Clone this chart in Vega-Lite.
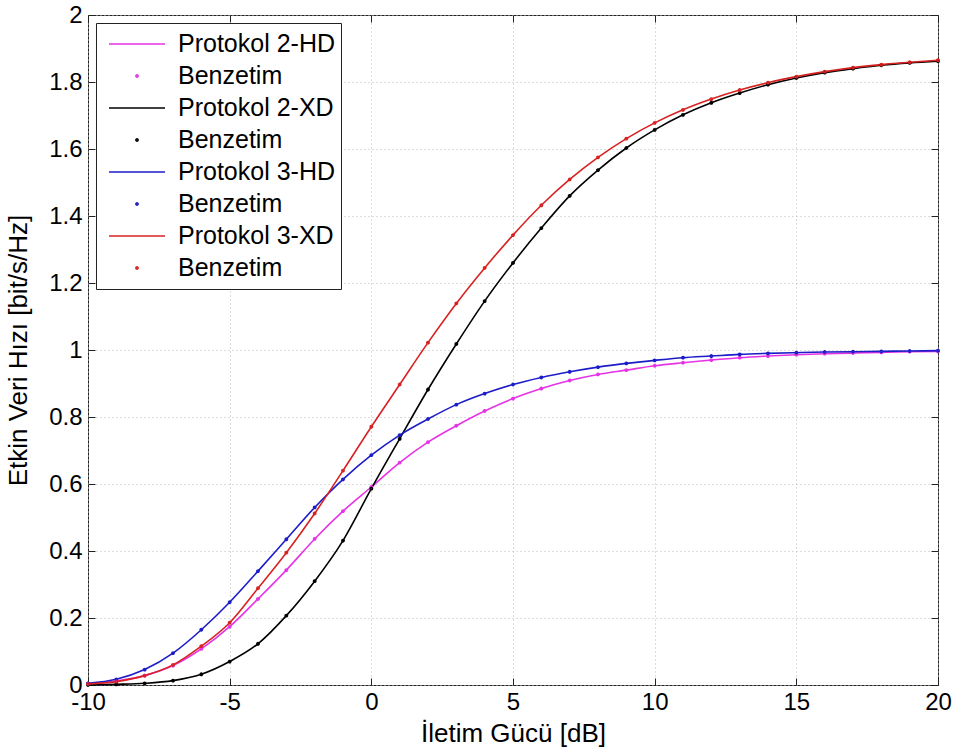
{
  "$schema": "https://vega.github.io/schema/vega-lite/v6.json",
  "autosize": {"type": "none"},
  "padding": {"left": 88, "top": 15, "right": 19, "bottom": 68},
  "width": 850,
  "height": 670,
  "background": "white",
  "config": {
    "view": {"stroke": "#222222", "strokeWidth": 1},
    "font": "Liberation Sans",
    "axis": {
      "labelFont": "Liberation Sans",
      "titleFont": "Liberation Sans",
      "labelColor": "black",
      "titleColor": "black",
      "titleFontWeight": "normal",
      "labelFontSize": 24,
      "titleFontSize": 26,
      "domain": false,
      "tickColor": "#222222",
      "gridColor": "#b8b8b8",
      "gridDash": [1, 3],
      "gridWidth": 1
    },
    "legend": {
      "title": null, "orient": "top-left", "offset": 8,
      "labelFont": "Liberation Sans", "labelFontSize": 25, "labelColor": "black",
      "strokeColor": "#222222", "fillColor": "white", "padding": 6,
      "symbolSize": 3136, "symbolStrokeWidth": 1.6, "clipHeight": 30, "rowPadding": 2,
      "symbolOffset": 6, "labelOffset": 12, "labelLimit": 400
    }
  },
  "data": {
    "values": [
      {"x": -10, "y": 0.004, "l": "a", "s": "b"},
      {"x": -9, "y": 0.012, "l": "a", "s": "b"},
      {"x": -8, "y": 0.028, "l": "a", "s": "b"},
      {"x": -7, "y": 0.058, "l": "a", "s": "b"},
      {"x": -6, "y": 0.108, "l": "a", "s": "b"},
      {"x": -5, "y": 0.174, "l": "a", "s": "b"},
      {"x": -4, "y": 0.257, "l": "a", "s": "b"},
      {"x": -3, "y": 0.343, "l": "a", "s": "b"},
      {"x": -2, "y": 0.436, "l": "a", "s": "b"},
      {"x": -1, "y": 0.519, "l": "a", "s": "b"},
      {"x": 0, "y": 0.591, "l": "a", "s": "b"},
      {"x": 1, "y": 0.664, "l": "a", "s": "b"},
      {"x": 2, "y": 0.725, "l": "a", "s": "b"},
      {"x": 3, "y": 0.774, "l": "a", "s": "b"},
      {"x": 4, "y": 0.818, "l": "a", "s": "b"},
      {"x": 5, "y": 0.855, "l": "a", "s": "b"},
      {"x": 6, "y": 0.885, "l": "a", "s": "b"},
      {"x": 7, "y": 0.909, "l": "a", "s": "b"},
      {"x": 8, "y": 0.927, "l": "a", "s": "b"},
      {"x": 9, "y": 0.940, "l": "a", "s": "b"},
      {"x": 10, "y": 0.953, "l": "a", "s": "b"},
      {"x": 11, "y": 0.962, "l": "a", "s": "b"},
      {"x": 12, "y": 0.970, "l": "a", "s": "b"},
      {"x": 13, "y": 0.977, "l": "a", "s": "b"},
      {"x": 14, "y": 0.982, "l": "a", "s": "b"},
      {"x": 15, "y": 0.986, "l": "a", "s": "b"},
      {"x": 16, "y": 0.989, "l": "a", "s": "b"},
      {"x": 17, "y": 0.991, "l": "a", "s": "b"},
      {"x": 18, "y": 0.993, "l": "a", "s": "b"},
      {"x": 19, "y": 0.995, "l": "a", "s": "b"},
      {"x": 20, "y": 0.996, "l": "a", "s": "b"},
      {"x": -10, "y": 0.000, "l": "c", "s": "d"},
      {"x": -9, "y": 0.002, "l": "c", "s": "d"},
      {"x": -8, "y": 0.005, "l": "c", "s": "d"},
      {"x": -7, "y": 0.013, "l": "c", "s": "d"},
      {"x": -6, "y": 0.032, "l": "c", "s": "d"},
      {"x": -5, "y": 0.070, "l": "c", "s": "d"},
      {"x": -4, "y": 0.123, "l": "c", "s": "d"},
      {"x": -3, "y": 0.207, "l": "c", "s": "d"},
      {"x": -2, "y": 0.310, "l": "c", "s": "d"},
      {"x": -1, "y": 0.431, "l": "c", "s": "d"},
      {"x": 0, "y": 0.586, "l": "c", "s": "d"},
      {"x": 1, "y": 0.735, "l": "c", "s": "d"},
      {"x": 2, "y": 0.882, "l": "c", "s": "d"},
      {"x": 3, "y": 1.018, "l": "c", "s": "d"},
      {"x": 4, "y": 1.146, "l": "c", "s": "d"},
      {"x": 5, "y": 1.260, "l": "c", "s": "d"},
      {"x": 6, "y": 1.364, "l": "c", "s": "d"},
      {"x": 7, "y": 1.460, "l": "c", "s": "d"},
      {"x": 8, "y": 1.537, "l": "c", "s": "d"},
      {"x": 9, "y": 1.603, "l": "c", "s": "d"},
      {"x": 10, "y": 1.657, "l": "c", "s": "d"},
      {"x": 11, "y": 1.702, "l": "c", "s": "d"},
      {"x": 12, "y": 1.738, "l": "c", "s": "d"},
      {"x": 13, "y": 1.767, "l": "c", "s": "d"},
      {"x": 14, "y": 1.792, "l": "c", "s": "d"},
      {"x": 15, "y": 1.812, "l": "c", "s": "d"},
      {"x": 16, "y": 1.828, "l": "c", "s": "d"},
      {"x": 17, "y": 1.840, "l": "c", "s": "d"},
      {"x": 18, "y": 1.850, "l": "c", "s": "d"},
      {"x": 19, "y": 1.857, "l": "c", "s": "d"},
      {"x": 20, "y": 1.862, "l": "c", "s": "d"},
      {"x": -10, "y": 0.005, "l": "e", "s": "f"},
      {"x": -9, "y": 0.017, "l": "e", "s": "f"},
      {"x": -8, "y": 0.046, "l": "e", "s": "f"},
      {"x": -7, "y": 0.095, "l": "e", "s": "f"},
      {"x": -6, "y": 0.165, "l": "e", "s": "f"},
      {"x": -5, "y": 0.247, "l": "e", "s": "f"},
      {"x": -4, "y": 0.340, "l": "e", "s": "f"},
      {"x": -3, "y": 0.435, "l": "e", "s": "f"},
      {"x": -2, "y": 0.530, "l": "e", "s": "f"},
      {"x": -1, "y": 0.614, "l": "e", "s": "f"},
      {"x": 0, "y": 0.686, "l": "e", "s": "f"},
      {"x": 1, "y": 0.746, "l": "e", "s": "f"},
      {"x": 2, "y": 0.794, "l": "e", "s": "f"},
      {"x": 3, "y": 0.837, "l": "e", "s": "f"},
      {"x": 4, "y": 0.870, "l": "e", "s": "f"},
      {"x": 5, "y": 0.897, "l": "e", "s": "f"},
      {"x": 6, "y": 0.918, "l": "e", "s": "f"},
      {"x": 7, "y": 0.935, "l": "e", "s": "f"},
      {"x": 8, "y": 0.949, "l": "e", "s": "f"},
      {"x": 9, "y": 0.960, "l": "e", "s": "f"},
      {"x": 10, "y": 0.969, "l": "e", "s": "f"},
      {"x": 11, "y": 0.977, "l": "e", "s": "f"},
      {"x": 12, "y": 0.982, "l": "e", "s": "f"},
      {"x": 13, "y": 0.987, "l": "e", "s": "f"},
      {"x": 14, "y": 0.990, "l": "e", "s": "f"},
      {"x": 15, "y": 0.992, "l": "e", "s": "f"},
      {"x": 16, "y": 0.994, "l": "e", "s": "f"},
      {"x": 17, "y": 0.995, "l": "e", "s": "f"},
      {"x": 18, "y": 0.996, "l": "e", "s": "f"},
      {"x": 19, "y": 0.997, "l": "e", "s": "f"},
      {"x": 20, "y": 0.998, "l": "e", "s": "f"},
      {"x": -10, "y": 0.003, "l": "g", "s": "h"},
      {"x": -9, "y": 0.010, "l": "g", "s": "h"},
      {"x": -8, "y": 0.028, "l": "g", "s": "h"},
      {"x": -7, "y": 0.060, "l": "g", "s": "h"},
      {"x": -6, "y": 0.116, "l": "g", "s": "h"},
      {"x": -5, "y": 0.186, "l": "g", "s": "h"},
      {"x": -4, "y": 0.289, "l": "g", "s": "h"},
      {"x": -3, "y": 0.395, "l": "g", "s": "h"},
      {"x": -2, "y": 0.512, "l": "g", "s": "h"},
      {"x": -1, "y": 0.640, "l": "g", "s": "h"},
      {"x": 0, "y": 0.771, "l": "g", "s": "h"},
      {"x": 1, "y": 0.897, "l": "g", "s": "h"},
      {"x": 2, "y": 1.022, "l": "g", "s": "h"},
      {"x": 3, "y": 1.139, "l": "g", "s": "h"},
      {"x": 4, "y": 1.245, "l": "g", "s": "h"},
      {"x": 5, "y": 1.343, "l": "g", "s": "h"},
      {"x": 6, "y": 1.432, "l": "g", "s": "h"},
      {"x": 7, "y": 1.509, "l": "g", "s": "h"},
      {"x": 8, "y": 1.575, "l": "g", "s": "h"},
      {"x": 9, "y": 1.631, "l": "g", "s": "h"},
      {"x": 10, "y": 1.678, "l": "g", "s": "h"},
      {"x": 11, "y": 1.717, "l": "g", "s": "h"},
      {"x": 12, "y": 1.749, "l": "g", "s": "h"},
      {"x": 13, "y": 1.776, "l": "g", "s": "h"},
      {"x": 14, "y": 1.798, "l": "g", "s": "h"},
      {"x": 15, "y": 1.816, "l": "g", "s": "h"},
      {"x": 16, "y": 1.831, "l": "g", "s": "h"},
      {"x": 17, "y": 1.843, "l": "g", "s": "h"},
      {"x": 18, "y": 1.852, "l": "g", "s": "h"},
      {"x": 19, "y": 1.859, "l": "g", "s": "h"},
      {"x": 20, "y": 1.865, "l": "g", "s": "h"}
    ]
  },
  "resolve": {"axis": {"x": "independent", "y": "independent"}},
  "layer": [
    {
      "mark": {"type": "line", "strokeWidth": 1.6, "interpolate": "monotone"},
      "encoding": {
        "x": {
          "field": "x", "type": "quantitative",
          "scale": {"domain": [-10, 20], "nice": false, "zero": false},
          "axis": {
            "orient": "bottom", "values": [-10, -5, 0, 5, 10, 15, 20],
            "labelExpr": "'' + datum.value", "grid": true,
            "tickSize": -7, "labelPadding": 12, "labelFlush": false,
            "title": "İletim Gücü [dB]", "titlePadding": 6
          }
        },
        "y": {
          "field": "y", "type": "quantitative",
          "scale": {"domain": [0, 2], "nice": false},
          "axis": {
            "orient": "left", "values": [0, 0.2, 0.4, 0.6, 0.8, 1, 1.2, 1.4, 1.6, 1.8, 2],
            "labelExpr": "'' + datum.value", "grid": true,
            "tickSize": -7, "labelPadding": 13, "labelFlush": false,
            "title": "Etkin Veri Hızı [bit/s/Hz]", "titlePadding": 17
          }
        },
        "color": {
          "field": "l", "type": "nominal",
          "scale": {
            "domain": ["a", "b", "c", "d", "e", "f", "g", "h"],
            "range": ["#e633e6", "#e633e6", "#000000", "#000000", "#1c1cc8", "#1c1cc8", "#d82222", "#d82222"]
          },
          "legend": {
            "labelExpr": "datum.value == 'a' ? 'Protokol 2-HD' : datum.value == 'c' ? 'Protokol 2-XD' : datum.value == 'e' ? 'Protokol 3-HD' : datum.value == 'g' ? 'Protokol 3-XD' : 'Benzetim'"
          }
        }
      }
    },
    {
      "mark": {"type": "point", "filled": false, "size": 3136, "strokeWidth": 1.6, "opacity": 1},
      "encoding": {
        "x": {
          "field": "x", "type": "quantitative",
          "scale": {"domain": [-10, 20], "nice": false, "zero": false},
          "axis": {
            "orient": "top", "values": [-10, -5, 0, 5, 10, 15, 20],
            "labels": false, "grid": false, "tickSize": -7, "title": null
          }
        },
        "y": {
          "field": "y", "type": "quantitative",
          "scale": {"domain": [0, 2], "nice": false},
          "axis": {
            "orient": "right", "values": [0, 0.2, 0.4, 0.6, 0.8, 1, 1.2, 1.4, 1.6, 1.8, 2],
            "labels": false, "grid": false, "tickSize": -7, "title": null
          }
        },
        "color": {
          "field": "s", "type": "nominal",
          "scale": {
            "domain": ["a", "b", "c", "d", "e", "f", "g", "h"],
            "range": ["#e633e6", "#e633e6", "#000000", "#000000", "#1c1cc8", "#1c1cc8", "#d82222", "#d82222"]
          },
          "legend": {
            "labelExpr": "datum.value == 'a' ? 'Protokol 2-HD' : datum.value == 'c' ? 'Protokol 2-XD' : datum.value == 'e' ? 'Protokol 3-HD' : datum.value == 'g' ? 'Protokol 3-XD' : 'Benzetim'"
          }
        },
        "shape": {
          "field": "s", "type": "nominal",
          "scale": {
            "domain": ["a", "b", "c", "d", "e", "f", "g", "h"],
            "range": [
              "M-1,0H1", "M-0.04,0A0.04,0.04 0 1,0 0.04,0A0.04,0.04 0 1,0 -0.04,0Z",
              "M-1,0H1", "M-0.04,0A0.04,0.04 0 1,0 0.04,0A0.04,0.04 0 1,0 -0.04,0Z",
              "M-1,0H1", "M-0.04,0A0.04,0.04 0 1,0 0.04,0A0.04,0.04 0 1,0 -0.04,0Z",
              "M-1,0H1", "M-0.04,0A0.04,0.04 0 1,0 0.04,0A0.04,0.04 0 1,0 -0.04,0Z"
            ]
          },
          "legend": {
            "labelExpr": "datum.value == 'a' ? 'Protokol 2-HD' : datum.value == 'c' ? 'Protokol 2-XD' : datum.value == 'e' ? 'Protokol 3-HD' : datum.value == 'g' ? 'Protokol 3-XD' : 'Benzetim'"
          }
        }
      }
    }
  ]
}
